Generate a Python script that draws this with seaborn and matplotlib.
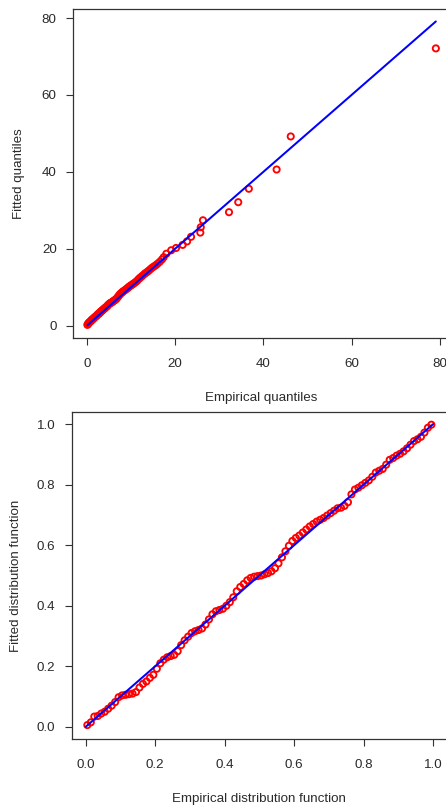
import numpy as np
import pandas as pd
import matplotlib
matplotlib.use("Agg")
import matplotlib.pyplot as plt
import seaborn as sns

# ---- QQ plot data (empirical vs fitted quantiles) ----
emp_q = [0.1, 0.2, 0.3, 0.4, 0.5, 0.6, 0.8, 0.9, 1.0, 1.1, 1.3, 1.4, 1.5, 1.7, 1.8,
         2.0, 2.1, 2.3, 2.4, 2.6, 2.7, 2.9, 3.0, 3.2, 3.3, 3.5, 3.6, 3.8, 4.0, 4.1,
         4.3, 4.5, 4.7, 4.8, 5.0, 5.2, 5.4, 5.5, 5.7, 5.9, 6.1, 6.3, 6.5, 6.7, 6.9,
         7.1, 7.3, 7.5, 7.7, 7.9, 8.1, 8.3, 8.6, 8.8, 9.0, 9.3, 9.5, 9.8, 10.0, 10.3,
         10.5, 10.8, 11.1, 11.4, 11.7, 12.0, 12.3, 12.6, 13.0, 13.3, 13.7, 14.0, 14.4,
         14.8, 15.2, 15.6, 16.0, 16.5, 17.0, 17.4, 18.0, 19.1, 20.2, 21.7, 22.7, 23.6,
         25.7, 25.8, 26.3, 32.2, 34.3, 36.7, 43.0, 46.2, 79.1]
fit_q = [0.2, 0.4, 0.5, 0.7, 0.8, 0.9, 1.1, 1.2, 1.4, 1.5, 1.6, 1.8, 1.9, 2.1, 2.2,
         2.4, 2.5, 2.7, 2.9, 3.0, 3.2, 3.3, 3.5, 3.7, 3.8, 4.0, 4.1, 4.3, 4.5, 4.6,
         4.8, 5.0, 5.2, 5.4, 5.6, 5.8, 5.9, 6.0, 6.1, 6.3, 6.5, 6.6, 6.8, 7.0, 7.3,
         7.6, 7.9, 8.2, 8.4, 8.6, 8.8, 9.0, 9.2, 9.4, 9.6, 9.8, 10.1, 10.3, 10.5, 10.7,
         10.9, 11.1, 11.4, 11.7, 12.1, 12.4, 12.7, 13.0, 13.4, 13.7, 14.0, 14.3, 14.7,
         15.1, 15.4, 15.7, 16.1, 16.6, 17.2, 17.8, 18.7, 19.6, 20.2, 21.0, 21.9, 23.1,
         24.2, 25.6, 27.4, 29.5, 32.1, 35.6, 40.6, 49.2, 72.1]
qq_ticks = [0, 20, 40, 60, 80]

# ---- PP plot data (empirical vs fitted distribution function) ----
emp_p = [0.005, 0.015, 0.025, 0.035, 0.045, 0.055, 0.065, 0.075, 0.085, 0.095,
         0.105, 0.115, 0.125, 0.135, 0.145, 0.155, 0.165, 0.175, 0.185, 0.195,
         0.205, 0.215, 0.225, 0.235, 0.245, 0.255, 0.265, 0.275, 0.285, 0.295,
         0.305, 0.315, 0.325, 0.335, 0.345, 0.355, 0.365, 0.375, 0.385, 0.395,
         0.405, 0.415, 0.425, 0.435, 0.445, 0.455, 0.465, 0.475, 0.485, 0.495,
         0.505, 0.515, 0.525, 0.535, 0.545, 0.555, 0.565, 0.575, 0.585, 0.595,
         0.605, 0.615, 0.625, 0.635, 0.645, 0.655, 0.665, 0.675, 0.685, 0.695,
         0.705, 0.715, 0.725, 0.735, 0.745, 0.755, 0.765, 0.775, 0.785, 0.795,
         0.805, 0.815, 0.825, 0.835, 0.845, 0.855, 0.865, 0.875, 0.885, 0.895,
         0.905, 0.915, 0.925, 0.935, 0.945, 0.955, 0.965, 0.975, 0.985, 0.995]
fit_p = [0.006, 0.015, 0.034, 0.036, 0.044, 0.050, 0.060, 0.070, 0.082, 0.098,
         0.104, 0.106, 0.108, 0.110, 0.115, 0.130, 0.142, 0.150, 0.162, 0.172,
         0.192, 0.210, 0.222, 0.230, 0.234, 0.238, 0.250, 0.270, 0.286, 0.298,
         0.310, 0.316, 0.320, 0.325, 0.338, 0.355, 0.372, 0.382, 0.386, 0.390,
         0.400, 0.412, 0.428, 0.448, 0.462, 0.472, 0.484, 0.492, 0.496, 0.498,
         0.500, 0.504, 0.508, 0.514, 0.524, 0.540, 0.560, 0.580, 0.598, 0.614,
         0.624, 0.632, 0.642, 0.652, 0.662, 0.670, 0.678, 0.684, 0.690, 0.698,
         0.706, 0.714, 0.722, 0.724, 0.730, 0.742, 0.768, 0.784, 0.790, 0.798,
         0.806, 0.814, 0.826, 0.840, 0.846, 0.852, 0.866, 0.882, 0.888, 0.896,
         0.902, 0.910, 0.920, 0.932, 0.944, 0.950, 0.958, 0.972, 0.988, 0.998]
pp_ticks = [0.0, 0.2, 0.4, 0.6, 0.8, 1.0]

sns.set_style("white")
plt.rcParams['font.family'] = ['Liberation Sans', 'DejaVu Sans']

W, H = 446, 808
fig = plt.figure(figsize=(W / 100, H / 100), dpi=100)

def px_axes(left, top, right, bottom):
    return fig.add_axes([left / W, 1 - bottom / H, (right - left) / W, (bottom - top) / H])

ax1 = px_axes(73, 9.3, 449.8, 337.8)
ax2 = px_axes(71.7, 412, 447, 739)

TXT = '#2a2a2a'
FRAME = '#333333'
FS = 9.6

def style(ax, ticks, fmt, xlabel, ylabel, lo, hi, xpad, ypad):
    pad = 0.04 * (hi - lo)
    ax.set_xlim(lo - pad, hi + pad)
    ax.set_ylim(lo - pad, hi + pad)
    ax.set_xticks(ticks)
    ax.set_yticks(ticks)
    ax.set_xticklabels([fmt.format(t) for t in ticks])
    ax.set_yticklabels([fmt.format(t) for t in ticks])
    for s in ax.spines.values():
        s.set_visible(True)
        s.set_color(FRAME)
        s.set_linewidth(0.9)
    ax.tick_params(axis='both', which='both', direction='out', length=5.2, width=0.8,
                   color=FRAME, labelsize=FS, labelcolor=TXT,
                   bottom=True, left=True, top=False, right=False)
    ax.tick_params(axis='x', pad=9)
    ax.tick_params(axis='y', pad=6.5)
    ax.set_xlabel(xlabel, fontsize=FS, color=TXT, labelpad=xpad)
    ax.set_ylabel(ylabel, fontsize=FS, color=TXT, labelpad=ypad)
    ax.grid(False)

MS = 20
MLW = 1.35
LW = 1.45

# Top: QQ plot
qq = pd.DataFrame({'emp': emp_q, 'fit': fit_q})
q_hi = max(qq['emp'].max(), qq['fit'].max())
sns.scatterplot(data=qq, x='emp', y='fit', ax=ax1, marker='o', s=MS,
                facecolor='none', edgecolor='#ff0000', linewidth=MLW, zorder=2)
sns.lineplot(x=[qq['emp'].min(), qq['emp'].max()], y=[qq['emp'].min(), qq['emp'].max()],
             ax=ax1, color='#0000ff', linewidth=LW, zorder=3)
style(ax1, qq_ticks, '{:g}', 'Empirical quantiles', 'Fitted quantiles', 0.0, q_hi, 16, 12.5)

# Bottom: PP plot
pp = pd.DataFrame({'emp': emp_p, 'fit': fit_p})
sns.scatterplot(data=pp, x='emp', y='fit', ax=ax2, marker='o', s=MS,
                facecolor='none', edgecolor='#ff0000', linewidth=MLW, zorder=2)
sns.lineplot(x=[pp_ticks[0], pp_ticks[-1]], y=[pp_ticks[0], pp_ticks[-1]],
             ax=ax2, color='#0000ff', linewidth=LW, zorder=3)
style(ax2, pp_ticks, '{:.1f}', 'Empirical distribution function',
      'Fitted distribution function', pp_ticks[0], pp_ticks[-1], 16, 10.5)

fig.savefig('out.png', dpi=100)
